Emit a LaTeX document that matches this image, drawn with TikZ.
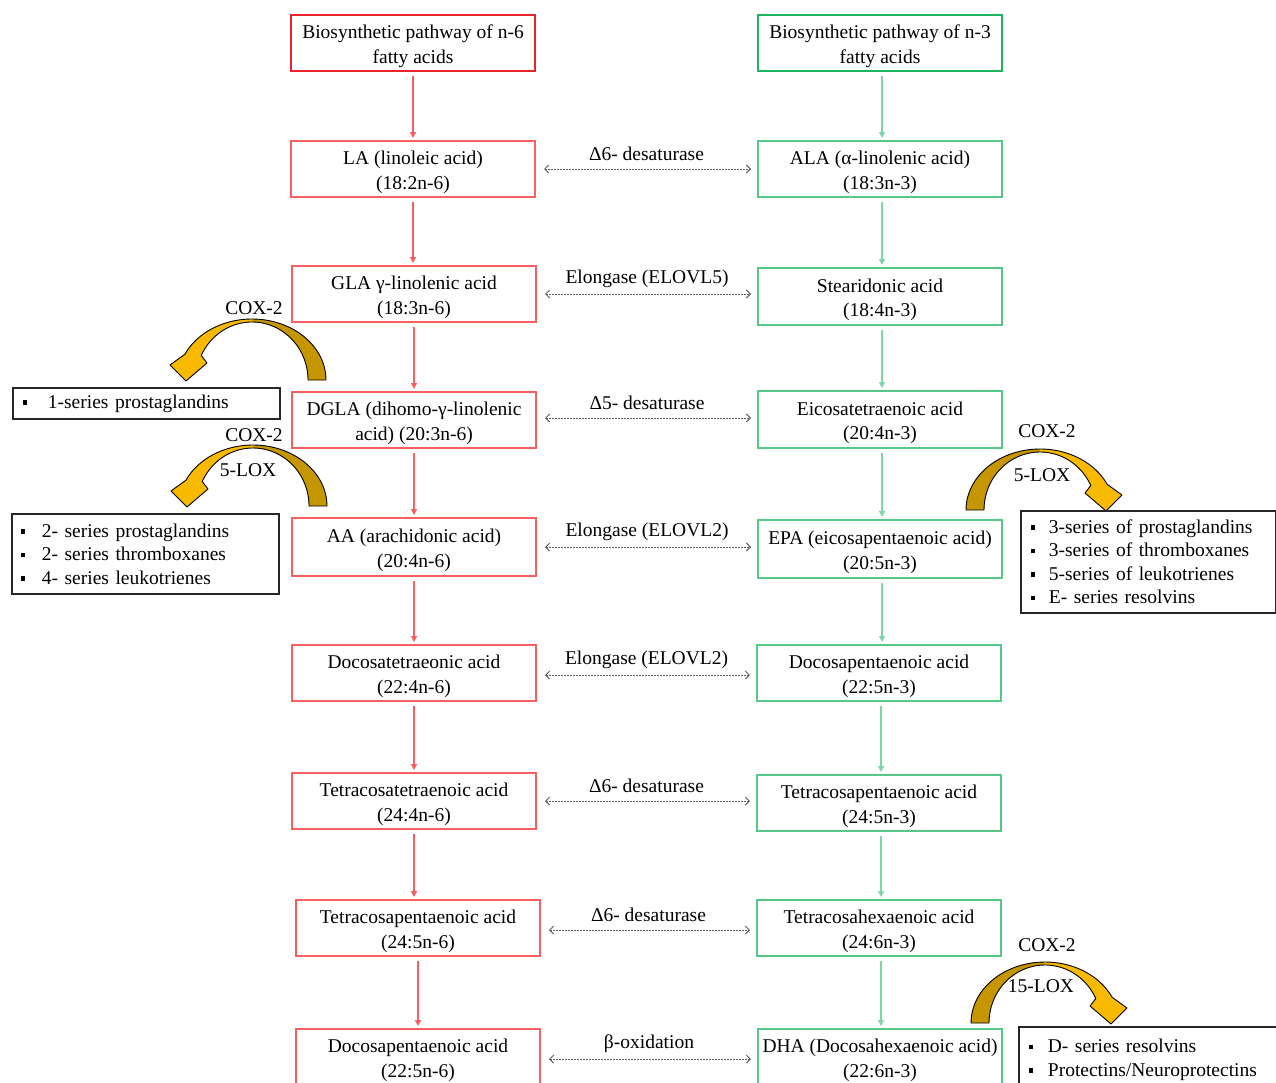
\documentclass[tikz,border=0pt]{standalone}
\usepackage{fontspec}
\setmainfont{Liberation Serif}
\usetikzlibrary{arrows.meta}
\definecolor{redT}{RGB}{235,35,45}
\definecolor{redB}{RGB}{250,95,95}
\definecolor{grnT}{RGB}{30,180,95}
\definecolor{grnB}{RGB}{85,200,135}
\definecolor{redA}{RGB}{250,95,95}
\definecolor{grnA}{RGB}{125,215,165}
\definecolor{gLight}{RGB}{247,186,0}
\definecolor{gDark}{RGB}{198,150,0}
\definecolor{dotc}{RGB}{95,95,95}
\newcommand{\gArrow}[3]{%
\begin{scope}[shift={(#1,#2)}, xscale=#3]
 \fill[gDark] plot[domain=0:-90,samples=30] ({74*cos(\x)},{61*sin(\x)}) -- plot[domain=-90:0,samples=30] ({56*cos(\x)},{58*sin(\x)}) -- cycle;
 \fill[gLight] plot[domain=-90:-155,samples=30] ({74*cos(\x)},{61*sin(\x)}) -- (-82,-15) -- (-66,1) -- (-45,-17) -- plot[domain=-155:-90,samples=30] ({56*cos(\x)},{58*sin(\x)}) -- cycle;
 \draw[black, line width=0.9pt, line join=round] plot[domain=0:-155,samples=60] ({74*cos(\x)},{61*sin(\x)}) -- (-82,-15) -- (-66,1) -- (-45,-17) -- plot[domain=-155:0,samples=60] ({56*cos(\x)},{58*sin(\x)}) -- cycle;
\end{scope}}
\newcommand{\bl}[1]{\makebox[#1][l]{\raisebox{3.5pt}{\rule{4.5pt}{4.5pt}}}}
\newcommand{\tp}{\rule{0pt}{20pt}}
\begin{document}
\begin{tikzpicture}[x=1pt,y=-1pt,
  every node/.style={font=\fontsize{19.5}{24.5}\selectfont},
  boxbase/.style={minimum width=244pt, minimum height=56pt, align=center, inner sep=0pt},
  rtitle/.style={boxbase, draw=redT, line width=2.5pt},
  gtitle/.style={boxbase, draw=grnT, line width=2.5pt},
  rbox/.style={boxbase, draw=redB, line width=2pt},
  gbox/.style={boxbase, draw=grnB, line width=2pt},
  rarr/.style={draw=redA, line width=1.3pt, -{Triangle[length=6pt,width=6pt]}, shorten <=4pt, shorten >=2pt},
  garr/.style={draw=grnA, line width=1.3pt, -{Triangle[length=6pt,width=6pt]}, shorten <=4pt, shorten >=2pt},
  dotarr/.style={draw=dotc, line width=1pt, dash pattern=on 1.5pt off 1.5pt, {Straight Barb[length=4pt,width=8pt]}-{Straight Barb[length=4pt,width=8pt]}, shorten <=8pt, shorten >=6pt},
  lab/.style={pos=0.5, yshift=15.5pt, inner sep=0pt},
  sbox/.style={draw=black!85, line width=1.8pt, align=left, anchor=north west, font=\fontsize{19.5}{23.5}\selectfont},
  clab/.style={inner sep=0pt}]
\fill[white] (0,0) rectangle (1276,1082);
\clip (0,0) rectangle (1276,1082);
% left column
\node[rtitle] (L1) at (413,43) {\tp Biosynthetic pathway of n-6\\fatty acids};
\node[rbox] (L2) at (413,169) {\tp LA (linoleic acid)\\(18:2n-6)};
\node[rbox] (L3) at (414,294) {\tp GLA γ-linolenic acid\\(18:3n-6)};
\node[rbox] (L4) at (414,420) {\tp DGLA (dihomo-γ-linolenic\\acid) (20:3n-6)};
\node[rbox, minimum height=58pt] (L5) at (414,547) {\tp AA (arachidonic acid)\\(20:4n-6)};
\node[rbox] (L6) at (414,673) {\tp Docosatetraeonic acid\\(22:4n-6)};
\node[rbox] (L7) at (414,801) {\tp Tetracosatetraenoic acid\\(24:4n-6)};
\node[rbox] (L8) at (418,928) {\tp Tetracosapentaenoic acid\\(24:5n-6)};
\node[rbox] (L9) at (418,1057) {\tp Docosapentaenoic acid\\(22:5n-6)};
% right column
\node[gtitle] (R1) at (880,43) {\tp Biosynthetic pathway of n-3\\fatty acids};
\node[gbox] (R2) at (880,169) {\tp ALA (α-linolenic acid)\\(18:3n-3)};
\node[gbox, minimum height=57pt] (R3) at (880,296.5) {\tp Stearidonic acid\\(18:4n-3)};
\node[gbox, minimum height=57pt] (R4) at (880,419.5) {\tp Eicosatetraenoic acid\\(20:4n-3)};
\node[gbox, minimum height=58pt] (R5) at (880,549) {\tp EPA (eicosapentaenoic acid)\\(20:5n-3)};
\node[gbox] (R6) at (879,673) {\tp Docosapentaenoic acid\\(22:5n-3)};
\node[gbox] (R7) at (879,803) {\tp Tetracosapentaenoic acid\\(24:5n-3)};
\node[gbox] (R8) at (879,928) {\tp Tetracosahexaenoic acid\\(24:6n-3)};
\node[gbox] (R9) at (880,1057) {\tp DHA (Docosahexaenoic acid)\\(22:6n-3)};
% vertical arrows
\foreach \a/\b in {L1/L2,L2/L3,L3/L4,L4/L5,L5/L6,L6/L7,L7/L8,L8/L9}
  \draw[rarr] (\a.south) -- (\a.south |- \b.north);
\foreach \a/\b in {R1/R2,R2/R3,R3/R4,R4/R5,R5/R6,R6/R7,R7/R8,R8/R9}
  \draw[garr] ([xshift=2pt]\a.south) -- ([xshift=2pt]\a.south |- \b.north);
% horizontal dotted
\draw[dotarr] (L2.east) -- (L2.east -| R2.west) node[lab] {Δ6- desaturase};
\draw[dotarr] (L3.east) -- (L3.east -| R3.west) node[lab] {Elongase (ELOVL5)};
\draw[dotarr] ([yshift=2pt]L4.east) -- ([yshift=2pt]L4.east -| R4.west) node[lab] {Δ5- desaturase};
\draw[dotarr] (L5.east) -- (L5.east -| R5.west) node[lab] {Elongase (ELOVL2)};
\draw[dotarr] ([yshift=-2pt]L6.east) -- ([yshift=-2pt]L6.east -| R6.west) node[lab] {Elongase (ELOVL2)};
\draw[dotarr] (L7.east) -- (L7.east -| R7.west) node[lab] {Δ6- desaturase};
\draw[dotarr] ([yshift=-2pt]L8.east) -- ([yshift=-2pt]L8.east -| R8.west) node[lab] {Δ6- desaturase};
\draw[dotarr] ([yshift=-2pt]L9.east) -- ([yshift=-2pt]L9.east -| R9.west) node[lab] {β-oxidation};
% curved arrows
\gArrow{252}{380}{1}
\gArrow{253}{506}{1}
\gArrow{1040}{510}{-1}
\gArrow{1045}{1023}{-1}
\node[clab] (k1) at (254,308) {COX-2};
\node[clab] (k2) at (254,435) {COX-2};
\node[clab] (k3) at (248,470) {5-LOX};
\node[clab] (k4) at (1047,431) {COX-2};
\node[clab] (k5) at (1042,475) {5-LOX};
\node[clab] (k6) at (1047,945) {COX-2};
\node[clab] (k7) at (1041,986) {15-LOX};
% side boxes
\node[sbox, inner xsep=10pt, inner ysep=0pt, text width=247pt, minimum height=31pt] (S1) at (12,387) {\bl{25pt}1-series prostaglandins};
\node[sbox, inner xsep=9pt, inner ysep=0pt, text width=249pt, minimum height=80pt] (S2) at (11,513) {\bl{21pt}2- series prostaglandins\\\bl{21pt}2- series thromboxanes\\\bl{21pt}4- series leukotrienes};
\node[sbox, inner xsep=10pt, inner ysep=0pt, text width=235pt, minimum height=102pt] (S3) at (1020,510) {\bl{18pt}3-series of prostaglandins\\\bl{18pt}3-series of thromboxanes\\\bl{18pt}5-series of leukotrienes\\\bl{18pt}E- series resolvins};
\node[sbox, inner xsep=10pt, inner ysep=0pt, text width=252pt, minimum height=66pt] (S4) at (1018,1026) {\bl{19pt}D- series resolvins\\\bl{19pt}Protectins/Neuroprotectins};
\end{tikzpicture}
\end{document}
